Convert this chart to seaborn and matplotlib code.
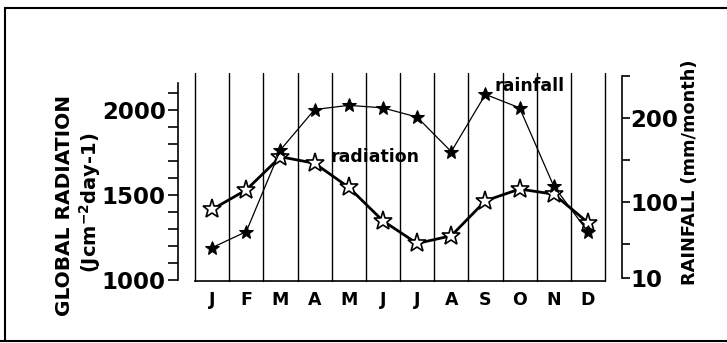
import matplotlib
matplotlib.use("Agg")
import matplotlib.pyplot as plt
import seaborn as sns
import pandas as pd
from matplotlib.lines import Line2D

months = ['J', 'F', 'M', 'A', 'M', 'J', 'J', 'A', 'S', 'O', 'N', 'D']
radiation = [1415, 1530, 1725, 1687, 1545, 1348, 1215, 1260, 1466, 1535, 1505, 1338]
rainfall = [46, 65, 162, 210, 215, 212, 201, 160, 228, 212, 119, 65]

left_ticks = list(range(1000, 2101, 100))
left_labels = ['1000', '', '', '', '', '1500', '', '', '', '', '2000', '']
right_ticks = [10, 50, 100, 150, 200, 250]
right_labels = ['10', '', '100', '', '200', '']

sns.set_theme(style='white')
plt.rcParams['font.family'] = ['DejaVu Sans']
plt.rcParams['font.weight'] = 'bold'
plt.rcParams['text.color'] = 'black'
plt.rcParams['xtick.color'] = 'black'
plt.rcParams['ytick.color'] = 'black'
plt.rcParams['axes.labelcolor'] = 'black'

df = pd.DataFrame({'m': range(len(months)), 'radiation': radiation, 'rainfall': rainfall})

fig = plt.figure(figsize=(7.27, 3.43), dpi=100)
ax = fig.add_axes([195/727, 1-281/343, 410/727, 208/343])
ax2 = ax.twinx()

sns.lineplot(data=df, x='m', y='radiation', ax=ax, color='black', lw=2.0,
             marker='*', markersize=14, markerfacecolor='white',
             markeredgecolor='black', markeredgewidth=1.2, zorder=4)
sns.lineplot(data=df, x='m', y='rainfall', ax=ax2, color='black', lw=0.9,
             marker='*', markersize=10, markerfacecolor='black',
             markeredgecolor='black', zorder=3)

ax.set_xlim(-0.5, 11.5)
ax.set_ylim(994, 2218)
ax2.set_ylim(6.4, 253.4)

for xv in [i - 0.5 for i in range(13)]:
    ax.axvline(xv, color='black', lw=1.0, clip_on=False, zorder=1)

ax.set_xticks(range(len(months)))
ax.set_xticklabels(months)
ax.tick_params(axis='x', length=0, pad=7, labelsize=12.5, labelcolor='black')

ax.set_yticks(left_ticks)
ax.set_yticklabels(left_labels)
ax.tick_params(axis='y', left=True, direction='out', length=7, width=1.2, pad=2,
               color='black', labelsize=16.5, labelcolor='black')

ax2.set_yticks(right_ticks)
ax2.set_yticklabels(right_labels)
ax2.tick_params(axis='y', right=True, direction='out', length=6, width=1.2, pad=0,
                color='black', labelsize=16.5, labelcolor='black')

for a in (ax, ax2):
    a.set_xlabel('')
    a.set_ylabel('')
    a.spines['top'].set_visible(False)
    for s in a.spines.values():
        s.set_color('black')
        s.set_linewidth(1.2)
    for lab in a.get_xticklabels() + a.get_yticklabels():
        lab.set_fontweight('bold')

ax.spines['right'].set_visible(False)
ax.spines['left'].set_position(('outward', 12))
ax.spines['left'].set_bounds(1000, 2160)
ax2.spines['left'].set_visible(False)
ax2.spines['bottom'].set_visible(False)
ax2.spines['right'].set_position(('outward', 12))
ax2.spines['right'].set_bounds(10, 250)

ax2.text(8.28, 238, 'rainfall', fontsize=12.5, fontweight='bold', ha='left', va='center')
ax.text(3.48, 1723, 'radiation', fontsize=12.5, fontweight='bold', ha='left', va='center')

fig.text(64/727, 1-205/343, 'GLOBAL RADIATION', rotation=90, fontsize=14.5,
         fontweight='bold', ha='center', va='center')
fig.text(90/727, 1-203/343, r'(Jcm$^{\mathbf{-2}}$day-1)', rotation=90, fontsize=14,
         fontweight='bold', ha='center', va='center')
fig.text(690/727, 1-172/343, 'RAINFALL (mm/month)', rotation=90, fontsize=12.8,
         fontweight='bold', ha='center', va='center')

fig.add_artist(Line2D([5/727, 1], [1-8/343, 1-8/343], color='black', lw=1.5))
fig.add_artist(Line2D([5/727, 5/727], [1-8/343, 1-341/343], color='black', lw=1.5))
fig.add_artist(Line2D([0, 1], [1-341/343, 1-341/343], color='black', lw=1.5))

fig.savefig('out.png', dpi=100)
